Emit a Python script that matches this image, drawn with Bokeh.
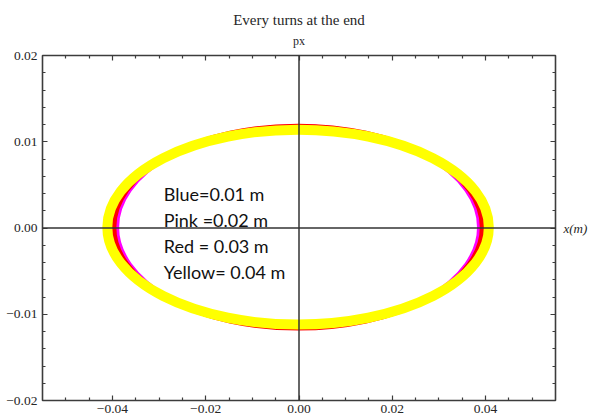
import numpy as np
from bokeh.plotting import figure
from bokeh.models import (ColumnDataSource, FixedTicker, LinearAxis, Span, Label,
                          Range1d, CustomJSTickFormatter)
from bokeh.embed import file_html
from bokeh.resources import INLINE

# Phase-space ellipses (x vs px) for the four starting offsets
series = ["Blue", "Pink", "Red", "Yellow"]
series_colors = ["#0000FF", "#FF00FF", "#FF0000", "#FFFF00"]
center_x = [-0.0002, -0.0002, -0.0002, -0.0002]   # m
center_px = [0.0001, 0.0001, 0.0001, 0.0001]
semi_x = [0.0390, 0.0388, 0.0395, 0.0409]          # half-width in x (m)
semi_px = [0.01172, 0.01170, 0.01170, 0.01130]     # half-height in px
ring_width = [2, 4, 5, 10]                          # stroke width, px

note_lines = ["Blue=0.01 m", "Pink =0.02 m", "Red = 0.03 m", "Yellow= 0.04 m"]

x_ticks = [-0.04, -0.02, 0.0, 0.02, 0.04]
y_ticks = [-0.02, -0.01, 0.0, 0.01, 0.02]

X_RANGE = (-0.055, 0.055)
Y_RANGE = (-0.02, 0.02)

FRAME = "#3c3c3c"
TEXT = "#262626"
SERIF = "Liberation Serif"

p = figure(width=590, height=418, x_range=Range1d(*X_RANGE), y_range=Range1d(*Y_RANGE),
           output_backend="svg", toolbar_location=None,
           min_border_left=42, min_border_right=35, min_border_top=55, min_border_bottom=18)
p.grid.visible = False
p.outline_line_color = FRAME
p.outline_line_width = 1.6
p.background_fill_color = "white"
p.border_fill_color = "white"

p.title.text = "Every turns at the end"
p.title.align = "center"
p.title.text_font = SERIF
p.title.text_font_size = "15px"
p.title.text_font_style = "normal"
p.title.text_color = TEXT
p.title.offset = 0
p.title.standoff = 5

src = ColumnDataSource(dict(cx=center_x, cy=center_px,
                            w=[2 * a for a in semi_x], h=[2 * b for b in semi_px],
                            color=series_colors, lw=ring_width, name=series))
p.ellipse(x="cx", y="cy", width="w", height="h", source=src,
          fill_color=None, line_color="color", line_width="lw")

x_minor = [round(v, 4) for v in np.arange(-0.05, 0.0501, 0.005) if round(v, 4) not in x_ticks]
y_minor = [round(v, 4) for v in np.arange(-0.02, 0.0201, 0.002) if round(v, 4) not in y_ticks]

fmt = CustomJSTickFormatter(code="""
    const s = Math.abs(tick).toFixed(2);
    return (tick < -1e-12 ? "\u2212" : "") + s;
""")
blank = CustomJSTickFormatter(code="return '';")


def style_axis(ax, show_labels):
    ax.axis_line_color = None
    ax.major_tick_line_color = FRAME
    ax.minor_tick_line_color = FRAME
    ax.major_tick_line_width = 1.2
    ax.minor_tick_line_width = 1.2
    ax.major_tick_in = 5
    ax.major_tick_out = 0
    ax.minor_tick_in = 3
    ax.minor_tick_out = 0
    ax.axis_label_text_font = SERIF
    ax.axis_label_text_font_size = "12px"
    ax.axis_label_text_color = TEXT
    ax.axis_label_text_font_style = "normal"
    if show_labels:
        ax.formatter = fmt
        ax.major_label_text_font = SERIF
        ax.major_label_text_font_size = "13.5px"
        ax.major_label_text_color = TEXT
    else:
        ax.formatter = blank
        ax.major_label_standoff = 0


bx = p.xaxis[0]
bx.ticker = FixedTicker(ticks=x_ticks, minor_ticks=x_minor)
style_axis(bx, True)
bx.major_label_standoff = 4

ly = p.yaxis[0]
ly.ticker = FixedTicker(ticks=y_ticks, minor_ticks=y_minor)
style_axis(ly, True)
ly.major_label_standoff = 5

# frame ticks along the top, with the momentum name over x = 0
top = LinearAxis(ticker=FixedTicker(ticks=x_ticks, minor_ticks=x_minor))
style_axis(top, False)
top.axis_label = "px"
top.axis_label_standoff = 8
p.add_layout(top, "above")

# frame ticks along the right, with the position name level with px = 0
right = LinearAxis(ticker=FixedTicker(ticks=y_ticks, minor_ticks=y_minor))
style_axis(right, False)
right.axis_label = "x(m)"
right.axis_label_orientation = "horizontal"
right.axis_label_text_font_style = "italic"
right.axis_label_text_font_size = "13px"
right.axis_label_standoff = 8
p.add_layout(right, "right")

# axes through the origin
p.add_layout(Span(location=0, dimension="height", line_color="#333333", line_width=1.5))
p.add_layout(Span(location=0, dimension="width", line_color="#333333", line_width=1.5))

# note listing the offsets
note_x = -0.0290
note_top = 0.00395
note_step = 0.00303
for i, line in enumerate(note_lines):
    p.add_layout(Label(x=note_x, y=note_top - i * note_step, text=line,
                       text_align="left", text_baseline="alphabetic",
                       text_font="Lato", text_font_size="18px", text_color="#111111"))

open("out.html", "w").write(file_html(p, INLINE))
